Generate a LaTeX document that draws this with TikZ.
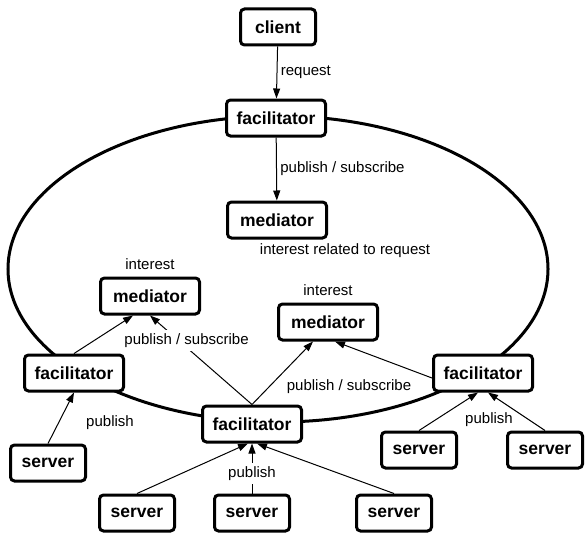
\documentclass[tikz,border=0pt]{standalone}
\usepackage{fontspec}
\setmainfont{Liberation Sans}
\usetikzlibrary{positioning}
\usetikzlibrary{arrows.meta}

\tikzset{
	box/.style={draw, line width=3pt, rounded corners=4pt, fill=white,
		minimum height=36pt, inner sep=2pt,
		font=\fontsize{17.5}{20}\selectfont\bfseries},
	agent/.style={box, minimum width=99pt},
	leaf/.style={box, minimum width=75pt},
	lab/.style={font=\fontsize{15}{18}\selectfont},
	every label/.style={lab}
}

\begin{document}
\begin{tikzpicture}[x=1pt, y=-1pt,
					line width=1pt,
					>={Triangle[length=10pt,width=7pt]}]
			\useasboundingbox (0,0) rectangle (585,535);
			\draw [line width=3pt] (278,269) ellipse [x radius=270, y radius=153];
			\node [leaf] (client) at (278,27) {client};
			\node [agent] (fac0) at (276,118) {facilitator};
			\node [agent, label={[xshift=68pt]below:interest related to request}] (med0) at (277,220) {mediator};
			\node [agent, label={[label distance=3pt]above:interest}] (med1) at (150,296) {mediator};
			\node [agent, label={[label distance=3pt]above:interest}] (med2) at (328,322) {mediator};
			\node [agent] (fac1) at (74,373) {facilitator};
			\node [agent] (fac2) at (252,424) {facilitator};
			\node [agent] (fac3) at (483,373) {facilitator};
			\node [leaf] (server1) at (48,463) {server};
			\node [leaf] (server2) at (137,513) {server};
			\node [leaf] (server3) at (252,513) {server};
			\node [leaf] (server4) at (394,513) {server};
			\node [leaf] (server5) at (419,450) {server};
			\node [leaf] (server6) at (545,450) {server};
			\node [lab] (pub1) at (110,423) {publish};
			\node [lab] (pub2) at (489,420) {publish};
			\node [lab] (pubsub2) at (349,387) {publish / subscribe};
			\path [->]
				(client) edge node [right, lab] {request} (fac0)
				(fac0) edge node [right, lab] {publish / subscribe} (med0)
				(fac1.north) edge ([xshift=-17pt]med1.south)
				(fac2.north) edge node [pos=0.72, xshift=8pt, lab, fill=white] {publish / subscribe} (med1.south)
				(fac2.north) edge ([xshift=-15pt]med2.south)
				([yshift=-5pt]fac3.west) edge ([xshift=7pt]med2.south)
				(server1.north) edge (fac1.south)
				(server2.north) edge ([xshift=-4pt]fac2.south)
				(server3.north) edge node [pos=0.4, lab, fill=white] {publish} (fac2.south)
				(server4.north) edge ([xshift=5pt]fac2.south)
				(server5.north) edge ([xshift=-5pt]fac3.south)
				(server6.north) edge ([xshift=5pt]fac3.south);
		\end{tikzpicture}
\end{document}
